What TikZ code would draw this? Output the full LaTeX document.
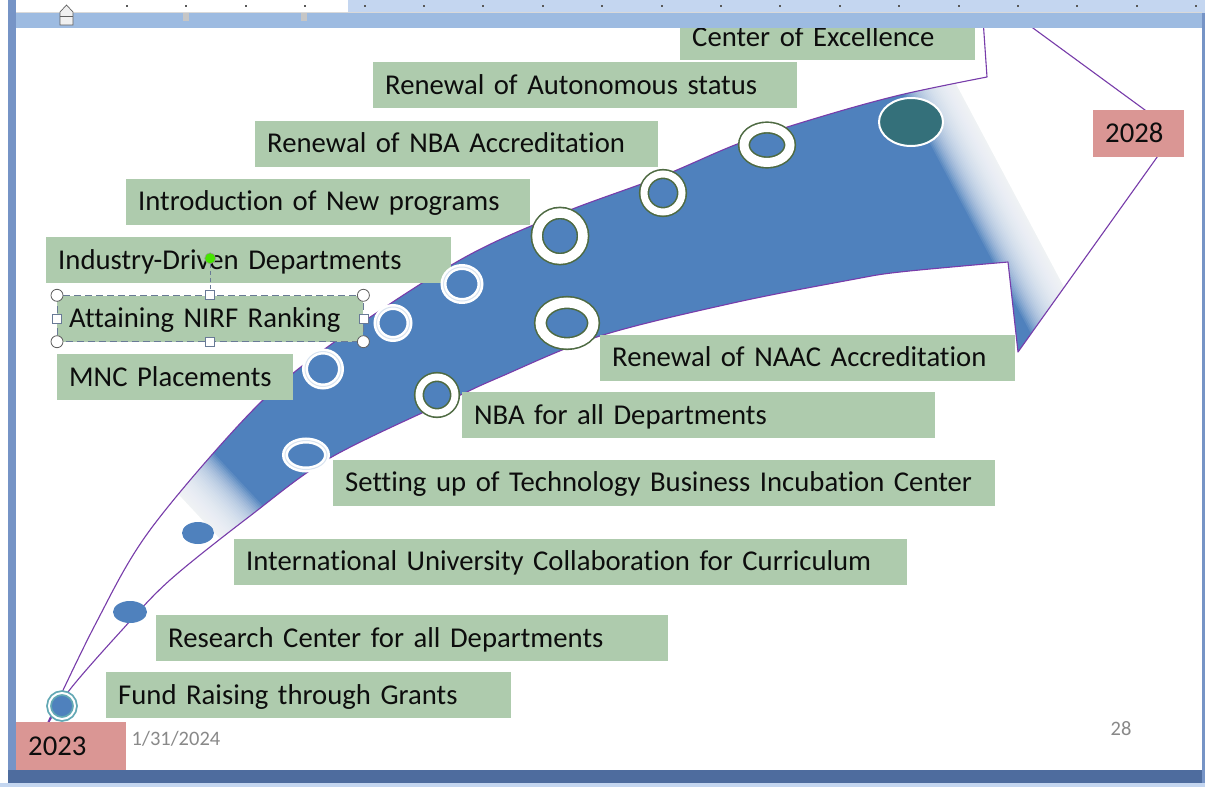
\documentclass[tikz,border=0pt]{standalone}
\usepackage{fontspec}
\setmainfont{Carlito}[Ligatures=NoCommon]
\usetikzlibrary{shapes.geometric,calc}

\definecolor{bandblue}{RGB}{79,129,189}
\definecolor{boxgreen}{RGB}{174,203,173}
\definecolor{yearred}{RGB}{218,150,148}
\definecolor{ringgreen}{RGB}{78,106,66}
\definecolor{edgepurple}{RGB}{120,60,170}
\definecolor{darkteal}{RGB}{52,112,122}
\definecolor{startteal}{RGB}{98,168,180}
\definecolor{rulerblue}{RGB}{196,214,240}
\definecolor{barblue}{RGB}{157,187,225}
\definecolor{sideblue}{RGB}{118,148,198}
\definecolor{framedark}{RGB}{78,108,158}
\definecolor{handlegray}{RGB}{105,122,150}
\definecolor{pagegray}{RGB}{137,137,137}

\newcommand{\lblfont}{\fontsize{28.7}{34}\selectfont}
% outline of the big curved arrow (pixel units, y down)
\newcommand{\bandpath}{plot[smooth, tension=.55] coordinates {(42,735) (95,625) (150,530) (253,410) (333,343) (460,260) (560,214) (660,177) (740,143) (820,117) (900,95) (987,77)}
  -- (981,-10) -- (1175,132) -- (1018,352) -- (1008,262)
  -- plot[smooth, tension=.55] coordinates {(1008,262) (900,272) (850,280) (733,303) (600,336) (500,377) (450,400) (330,458) (250,516) (170,580) (122,630) (68,692) (42,735)} -- cycle}

\begin{document}
\begin{tikzpicture}[x=1pt, y=-1pt,
  lbl/.style={fill=boxgreen, anchor=west, inner xsep=12pt, inner ysep=0pt,
    minimum height=46pt, text height=21pt, text depth=3pt, align=left,
    font=\lblfont, text=black!95},
  yr/.style={lbl, fill=yearred, minimum height=47pt},
  blob/.style={ellipse, inner sep=0pt, fill=bandblue},
  whitering/.style={blob, draw=white, line width=2.5pt, double=white!78!bandblue, double distance=1pt},
  greenring/.style={blob, draw=ringgreen, line width=1.6pt, double=white, double distance=#1},
  hcirc/.style={circle, draw=gray!75!black, fill=white, line width=.8pt, minimum size=12pt, inner sep=0pt},
  hsq/.style={rectangle, draw=handlegray, fill=white, line width=.8pt, minimum size=9pt, inner sep=0pt},
  pagetxt/.style={font=\fontsize{20.5}{24}\selectfont, text=pagegray, inner sep=0pt}
]
\useasboundingbox (0,0) rectangle (1205,787);
\fill[white] (0,0) rectangle (1205,787);
\fill[white] (16,28) rectangle (1202,770);

\begin{scope}
  \clip (16,28) rectangle (1202,770);
  % band with faded ends
  \begin{scope}
    \clip \bandpath;
    \fill[bandblue] (0,0) rectangle (1205,787);
    \begin{scope}[shift={(223,463)}, rotate=43]
      \foreach \k in {0,...,29}
        \fill[white, opacity=.09] (-1500,-1500) rectangle ({-1.8*\k},1500);
      \fill[white] (-1500,-1500) rectangle (-54,1500);
    \end{scope}
    \begin{scope}[shift={(960,200)}, rotate=28]
      \foreach \k in {0,...,29}
        \fill[white, opacity=.09] ({1.7*\k},-1500) rectangle (1500,1500);
      \fill[white] (51,-1500) rectangle (1500,1500);
    \end{scope}
  \end{scope}
  \draw[edgepurple, line width=1.1pt, line join=round] \bandpath;

  % milestone labels
  \node[lbl, text width=271pt] (coe)      at (680,37)    {Center of Excellence};
  \node[lbl, text width=400pt] (auto)     at (373,85)    {Renewal of Autonomous status};
  \node[lbl, text width=379pt] (nba)      at (255,143.5) {Renewal of NBA Accreditation};
  \node[lbl, text width=380pt] (newprog)  at (126,201.5) {Introduction of New programs};
  \node[lbl, text width=381pt] (industry) at (46,260)    {Industry-Driven Departments};
  \node[lbl, text width=282pt] (nirf)     at (57,318.5)  {Attaining NIRF Ranking};
  \node[lbl, text width=212pt] (mnc)      at (57,377)    {MNC Placements};
  \node[lbl, text width=391pt] (naac)     at (600,357.5) {Renewal of NAAC Accreditation};
  \node[lbl, text width=449pt] (nbaall)   at (462,415)   {NBA for all Departments};
  \node[lbl, text width=638pt] (tbi)      at (333,482.5) {Setting up of Technology Business Incubation Center};
  \node[lbl, text width=649pt] (intl)     at (234,561.5) {International University Collaboration for Curriculum};
  \node[lbl, text width=488pt] (research) at (156,638)   {Research Center for all Departments};
  \node[lbl, text width=381pt] (fund)     at (106,695)   {Fund Raising through Grants};
  \node[yr, text width=86pt, minimum height=48pt] (y2023) at (16,746) {2023};
  \node[yr, text width=67pt]  (y2028)     at (1093,133.5) {2028};

  % markers along the arrow
  \node[blob, draw=startteal, line width=1.8pt, double=white, double distance=2pt,
        minimum width=26pt, minimum height=26pt] (m1) at (62,706) {};
  \node[blob, minimum width=34pt, minimum height=22pt] (m2) at (130,612) {};
  \node[blob, minimum width=32pt, minimum height=22pt] (m3) at (198,533) {};
  \node[whitering, minimum width=42pt, minimum height=29pt] (m4) at (306,455) {};
  \node[whitering, minimum width=36pt, minimum height=35pt] (m5) at (323,369) {};
  \node[whitering, minimum width=33pt, minimum height=32pt] (m6) at (393,323) {};
  \node[whitering, minimum width=37pt, minimum height=34pt] (m7) at (462,284) {};
  \node[greenring=7pt, minimum width=36pt, minimum height=36pt] (m8) at (437,395) {};
  \node[greenring=10pt, minimum width=53pt, minimum height=41pt] (m9) at (567,323) {};
  \node[greenring=9.5pt, minimum width=46pt, minimum height=46pt] (m10) at (560,236) {};
  \node[greenring=7pt, minimum width=38pt, minimum height=38pt] (m11) at (663,193) {};
  \node[greenring=9pt, minimum width=46pt, minimum height=35pt] (m12) at (767,145) {};
  \node[ellipse, fill=darkteal, draw=white, line width=2pt, inner sep=0pt,
        minimum width=64pt, minimum height=48pt] (m13) at (911,122) {};

  % selection handles on the NIRF box
  \draw[handlegray, line width=.9pt, dash pattern=on 7pt off 4pt]
    (nirf.north west) rectangle (nirf.south east);
  \foreach \a/\n in {north west/nw, north east/ne, south west/sw, south east/se}
    \node[hcirc] (hc\n) at (nirf.\a) {};
  \foreach \a/\n in {north/n, south/s, west/w, east/e}
    \node[hsq] (hs\n) at (nirf.\a) {};
  \node[circle, fill=green!70!yellow!90!black, draw=gray!80, line width=.6pt,
        minimum size=11pt, inner sep=0pt] (hrot) at ($(nirf.north)+(0,-37)$) {};
  \draw[handlegray, line width=.9pt, dash pattern=on 4pt off 3pt] (hrot) -- (hsn);

  \node[pagetxt] (date) at (176,739) {1/31/2024};
  \node[pagetxt] (pgno) at (1121,729) {28};
\end{scope}

% window frame and ruler
\fill[rulerblue] (8,0) rectangle (1205,13);
\fill[white] (16,0) rectangle (348,12);
\draw[white!85!black, line width=.6pt] (16,12.5) -- (1202,12.5);
\fill[barblue] (8,13) rectangle (1205,28);
\fill[sideblue] (8,0) rectangle (16,783);
\fill[framedark] (8,770) rectangle (1205,783);
\fill[rulerblue] (0,783) rectangle (1205,787);
\fill[sideblue] (1202,13) rectangle (1205,783);
\foreach \i in {0,...,18}
  \fill[gray!70!black] ({126+59.4*\i},5) rectangle ++(2,2);
\foreach \x in {186,304}
  \fill[gray!45] (\x-3,13) rectangle ++(6,8);
\filldraw[fill=gray!12, draw=gray!75!black, line width=.7pt]
  (60,25) -- (60,12) -- (66.5,5) -- (73,12) -- (73,25) -- cycle;
\draw[gray!75!black, line width=.6pt] (60,16) -- (73,16);
\end{tikzpicture}
\end{document}
